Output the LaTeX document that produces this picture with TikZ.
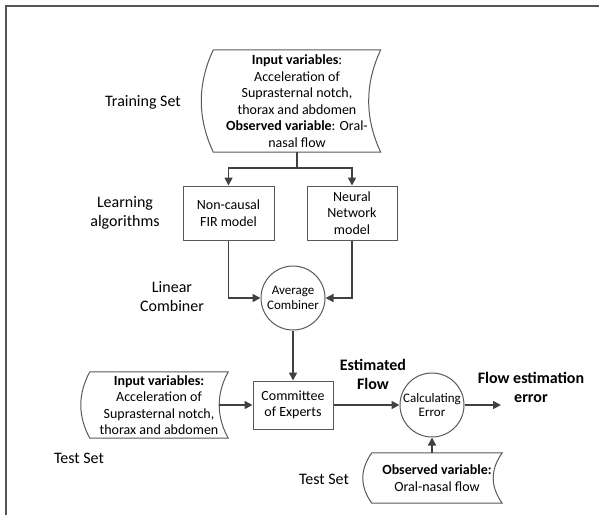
\documentclass[tikz,border=0pt]{standalone}
\usepackage{fontspec}
\setmainfont{Carlito}
\usetikzlibrary{arrows.meta,calc}
\definecolor{ln}{HTML}{404040}
\definecolor{bd}{HTML}{595959}
\definecolor{fr}{HTML}{555555}
\tikzset{
  boxtext/.style={font=\fontsize{14}{16.5}\selectfont, align=center, text=black},
  lbl/.style={font=\fontsize{16}{19}\selectfont, align=center, inner sep=0, text=black},
  blbl/.style={font=\fontsize{16}{19}\selectfont\bfseries, align=center, inner sep=0, text=black},
  procbox/.style={boxtext, draw=bd, line width=1pt, inner sep=0},
  roundnode/.style={circle, draw=bd, line width=1pt, minimum size=64pt, inner sep=0,
    font=\fontsize{13}{14.5}\selectfont, align=center, text=black},
  datanode/.style={boxtext, inner sep=0},
  conn/.style={draw=ln, line width=1.6pt},
  arr/.style={conn, -{Triangle[length=8pt,width=8pt]}},
  dataline/.style={draw=bd, line width=1pt},
}
\newcommand\sdoutline[2]{%
  \draw[dataline] (#1.north west) -- (#1.north east)
    .. controls ($(#1.north east)!0.333!(#1.south east)+({-4*#2/3},0)$)
        and ($(#1.north east)!0.667!(#1.south east)+({-4*#2/3},0)$) .. (#1.south east)
    -- (#1.south west)
    .. controls ($(#1.north west)!0.667!(#1.south west)+({-4*#2/3},0)$)
        and ($(#1.north west)!0.333!(#1.south west)+({-4*#2/3},0)$) .. (#1.north west);
  \coordinate (#1-r) at ($(#1.east)+(-#2,0)$);
}
\begin{document}
\begin{tikzpicture}[x=1pt,y=-1pt]
\useasboundingbox (0,0) rectangle (599,515);
% frame
\draw[fr, line width=2pt] (6,515) -- (6,6) -- (599,6);

% training set
\node[datanode, minimum width=167pt, minimum height=102pt] (train) at (297,101)
  {\textbf{Input variables}:\\Acceleration of\\Suprasternal notch,\\thorax and abdomen\\\textbf{Observed variable}: Oral-\\nasal flow};
\sdoutline{train}{12}
\node[lbl] (ltrain) at (143,102) {Training Set};

% learning algorithms
\node[procbox, minimum width=91pt, minimum height=54pt] (fir) at (228.5,213) {Non-causal\\FIR model};
\node[procbox, minimum width=90pt, minimum height=54pt] (nn) at (352,213) {Neural\\Network\\model};
\node[lbl] (llearn) at (125,213) {Learning\\algorithms};

\coordinate (br) at (297,168);
\draw[conn] (train.south) -- (br);
\draw[arr] (br) -| (fir.north);
\draw[arr] (br) -| (nn.north);

% combiner
\node[roundnode] (avg) at (293,298) {Average\\Combiner};
\node[lbl] (llin) at (172,297) {Linear\\Combiner};
\draw[arr] (fir.south) |- (avg.west);
\draw[arr] (nn.south) |- (avg.east);

% committee
\node[procbox, minimum width=80pt, minimum height=48pt] (com) at (293,405) {Committee\\of Experts};
\draw[arr] (avg.south) -- (com.north);

% test input
\node[datanode, minimum width=138pt, minimum height=66pt] (inp) at (159,405)
  {\textbf{Input variables:}\\Acceleration of\\Suprasternal notch,\\thorax and abdomen};
\sdoutline{inp}{9}
\node[lbl] (ltest1) at (79,458) {Test Set};
\draw[arr] (inp-r) -- (com.west);

% calculating error
\node[roundnode] (calc) at (432,405) {Calculating\\Error};
\draw[arr] (com.east) -- (calc.west);
\node[blbl] (lest) at (373,374.5) {Estimated\\Flow};
\coordinate (outc) at (501,405);
\draw[arr] (calc.east) -- (outc);
\node[blbl] (lerr) at (531,387) {Flow estimation\\error};

% observed
\node[datanode, minimum width=130pt, minimum height=50pt] (obs) at (437,478)
  {\textbf{Observed variable:}\\Oral-nasal flow};
\sdoutline{obs}{9}
\node[lbl] (ltest2) at (324,479) {Test Set};
\draw[arr] (obs.north -| calc.south) -- (calc.south);
\end{tikzpicture}
\end{document}
